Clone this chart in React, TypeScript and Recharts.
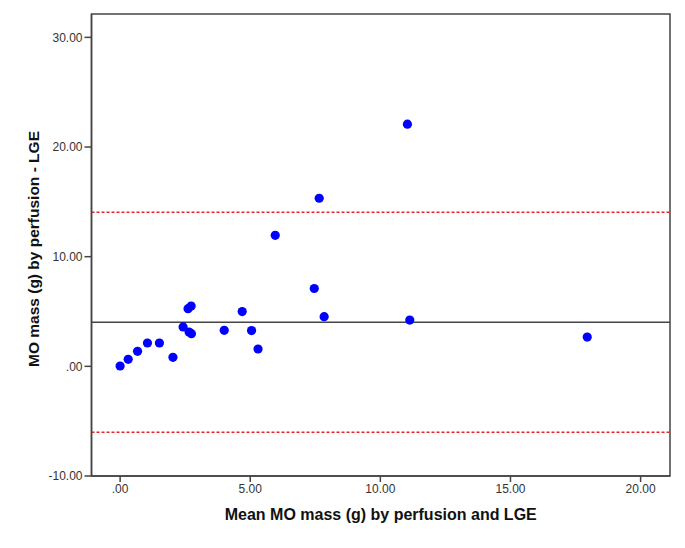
import * as React from "react";
import {
  ReferenceArea,
  ReferenceLine,
  Scatter,
  ScatterChart,
  XAxis,
  YAxis,
} from "recharts";

const meanMass = [
  0.0, 0.31, 0.67, 1.05, 1.51, 2.03, 2.42, 2.61, 2.73, 2.65, 2.74, 4.0, 4.69,
  5.05, 5.3, 5.96, 7.46, 7.65, 7.84, 11.04, 11.13, 17.95,
];
const diffMass = [
  0.03, 0.64, 1.37, 2.13, 2.13, 0.82, 3.59, 5.26, 5.5, 3.13, 2.98, 3.28, 4.99,
  3.26, 1.58, 11.95, 7.1, 15.33, 4.53, 22.08, 4.22, 2.67,
];

const xTicks = [0, 5, 10, 15, 20];
const yTicks = [-10, 0, 10, 20, 30];

const meanDiff = 4.02;
const upperLimit = 14.06;
const lowerLimit = -6.0;

const xDomain: [number, number] = [-1.1, 21.13];
const yDomain: [number, number] = [-10, 32.13];

const points = meanMass.map((x, i) => ({ x, y: diffMass[i] }));

function fmt(v: number) {
  return v.toFixed(2).replace(/^0\./, ".").replace(/^-0\./, "-.");
}

const FONT = "'Liberation Sans', Arial, sans-serif";

export default function App() {
  return (
    <div style={{ position: "absolute", left: 0, top: 0, background: "#fff" }}>
      <ScatterChart
        width={685}
        height={548}
        margin={{ top: 14, right: 15, bottom: 32, left: 21.5 }}
        style={{ fontFamily: FONT }}
      >
        <XAxis
          type="number"
          dataKey="x"
          domain={xDomain}
          ticks={xTicks}
          allowDataOverflow
          tickFormatter={fmt}
          tickSize={6}
          height={40}
          stroke="#444"
          strokeWidth={1.5}
          tick={{ fill: "#333", fontSize: 12, fontFamily: FONT }}
          label={{
            value: "Mean MO mass (g) by perfusion and LGE",
            position: "bottom",
            offset: -7,
            fill: "#111",
            fontSize: 16,
            fontWeight: 700,
            fontFamily: FONT,
          }}
        />
        <YAxis
          type="number"
          dataKey="y"
          domain={yDomain}
          ticks={yTicks}
          allowDataOverflow
          tickFormatter={fmt}
          tickSize={7}
          width={70}
          stroke="#444"
          strokeWidth={1.5}
          tick={{ fill: "#333", fontSize: 12, fontFamily: FONT }}
          label={{
            value: "MO mass (g) by perfusion - LGE",
            angle: -90,
            position: "insideLeft",
            offset: 12,
            dy: 122,
            fill: "#111",
            fontSize: 15.5,
            fontWeight: 700,
            fontFamily: FONT,
          }}
        />
        <ReferenceArea
          x1={xDomain[0]}
          x2={xDomain[1]}
          y1={yDomain[0]}
          y2={yDomain[1]}
          fill="none"
          fillOpacity={0}
          stroke="#444"
          strokeWidth={1.5}
        />
        <ReferenceLine y={upperLimit} stroke="#e8262a" strokeWidth={1.5} strokeDasharray="3 2" />
        <ReferenceLine y={lowerLimit} stroke="#e8262a" strokeWidth={1.5} strokeDasharray="3 2" />
        <ReferenceLine y={meanDiff} stroke="#444" strokeWidth={1.5} />
        <Scatter
          data={points}
          fill="#0000ff"
          isAnimationActive={false}
          shape={(p: any) => <circle cx={p.cx} cy={p.cy} r={4.6} fill="#0000ff" />}
        />
      </ScatterChart>
    </div>
  );
}
